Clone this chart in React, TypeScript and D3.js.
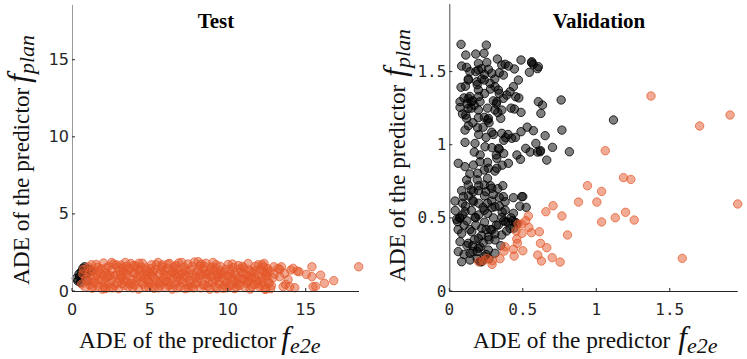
import React from 'react';
import { scaleLinear } from 'd3';

// test set: [ADE of f_e2e, ADE of f_plan]
const testPlanBetter: [number, number][] = [
  [0.7, 1.47], [1.07, 1.42], [1.24, 1.29], [0.28, 0.82], [0.49, 0.93], [0.6, 1.25],
  [0.92, 1.14], [0.81, 1.57], [0.38, 0.65], [0.55, 0.55], [0.45, 1.1], [0.98, 0.7],
];

const testE2eBetter: [number, number][] = [
  [0.62, 0.45], [0.7, 1.1], [0.85, 0.25], [0.9, 0.8], [1.05, 1.55], [1.12, 0.4], [1.2, 0.95], [1.3, 0.18],
  [1.38, 1.3], [1.45, 0.62], [1.55, 1.72], [1.6, 1.02], [1.68, 0.3], [1.75, 0.75], [1.85, 1.45], [1.95, 0.12],
  [2.02, 1.82], [2.1, 0.55], [2.18, 1.2], [2.25, 0.88], [2.35, 1.6], [2.42, 0.22], [2.5, 1.35], [2.58, 0.68],
  [2.66, 1.75], [2.75, 0.35], [2.82, 1.05], [2.93, 1.52], [3.0, 0.15], [3.08, 0.8], [3.15, 1.68], [3.22, 0.48],
  [3.3, 1.25], [3.42, 1.85], [3.48, 0.62], [3.55, 1.0], [3.62, 0.25], [3.7, 1.48], [3.78, 1.78], [3.86, 0.72],
  [3.95, 1.18], [4.02, 0.38], [4.1, 1.62], [4.18, 0.9], [4.27, 0.12], [4.35, 1.35], [4.44, 0.58], [4.52, 1.8],
  [4.6, 1.05], [4.68, 0.28], [4.76, 1.5], [4.85, 0.75], [4.94, 1.22], [5.02, 0.45], [5.1, 1.7], [5.18, 0.95],
  [5.26, 0.18], [5.35, 1.4], [5.44, 0.65], [5.52, 1.85], [5.6, 1.12], [5.68, 0.35], [5.76, 1.58], [5.85, 0.82],
  [5.94, 1.3], [6.02, 0.22], [6.1, 1.48], [6.18, 0.6], [6.26, 1.78], [6.35, 1.0], [6.44, 0.12], [6.52, 1.28],
  [6.6, 0.42], [6.68, 1.65], [6.76, 0.88], [6.85, 1.82], [6.94, 0.3], [7.02, 1.15], [7.1, 0.55], [7.18, 1.55],
  [7.26, 0.15], [7.35, 0.98], [7.44, 1.75], [7.52, 0.68], [7.6, 1.38], [7.68, 0.25], [7.76, 1.05], [7.85, 1.88],
  [7.94, 0.48], [8.02, 1.25], [8.1, 0.78], [8.18, 1.62], [8.26, 0.2], [8.35, 1.0], [8.44, 1.45], [8.52, 0.38],
  [8.6, 1.8], [8.68, 0.85], [8.76, 1.2], [8.85, 0.12], [8.94, 1.55], [9.02, 0.62], [9.1, 1.32], [9.18, 0.28],
  [9.26, 1.7], [9.35, 0.92], [9.44, 0.45], [9.52, 1.6], [9.6, 1.08], [9.68, 0.18], [9.76, 0.75], [9.85, 1.42],
  [9.94, 0.55], [10.02, 1.72], [10.1, 0.32], [10.18, 1.15], [10.26, 0.85], [10.35, 1.52], [10.44, 0.15], [10.52, 1.0],
  [10.6, 0.6], [10.68, 1.65], [10.76, 0.35], [10.85, 1.25], [10.94, 0.8], [11.02, 1.5], [11.1, 0.22], [11.18, 1.02],
  [11.26, 0.58], [11.35, 1.38], [11.44, 0.12], [11.52, 0.85], [11.6, 1.22], [11.68, 0.42], [11.76, 1.6], [11.85, 0.7],
  [11.94, 1.05], [12.02, 0.28], [12.1, 1.4], [12.18, 0.9], [12.26, 0.55], [12.35, 1.2], [12.44, 0.15], [12.52, 0.95],
  [12.6, 0.62], [12.7, 1.3], [12.8, 0.35], [12.9, 0.85], [13.0, 1.1],
  [0.75, 1.4], [1.25, 1.7], [1.5, 0.5], [1.8, 1.15], [2.05, 0.3], [2.3, 1.05], [2.6, 0.2], [2.85, 1.7],
  [3.1, 1.05], [3.35, 0.35], [3.6, 1.3], [3.85, 0.5], [4.05, 1.15], [4.3, 1.8], [4.55, 0.45], [4.8, 1.05],
  [5.05, 1.45], [5.3, 0.85], [5.55, 0.2], [5.8, 1.7], [6.05, 0.95], [6.3, 0.4], [6.55, 1.55], [6.8, 0.6],
  [7.05, 1.85], [7.3, 1.35], [7.55, 1.0], [7.8, 0.2], [8.05, 0.55], [8.3, 1.75], [8.55, 1.1], [8.8, 0.55],
  [9.05, 1.85], [9.3, 0.15], [9.55, 1.3], [9.8, 0.38], [10.05, 0.95], [10.3, 1.75], [10.55, 0.25], [10.8, 1.45],
  [11.05, 0.75], [11.3, 1.78], [11.55, 0.3], [11.8, 1.35], [12.05, 0.65], [12.3, 1.55], [12.55, 1.45], [12.75, 0.15],
  [2.2, 1.5], [3.25, 1.5], [4.4, 0.95], [5.2, 1.25], [6.4, 1.2], [7.4, 0.4], [8.4, 0.4], [9.4, 1.15],
  [10.4, 0.6], [11.4, 0.95], [1.4, 0.85], [2.7, 0.95], [3.9, 0.2], [5.65, 0.6], [6.9, 1.05], [8.15, 1.35],
  [9.2, 0.75], [10.7, 0.85], [11.9, 0.45],
  [1.0, 0.6], [1.15, 1.25], [1.35, 0.3], [1.65, 1.55], [1.9, 0.7], [2.15, 0.15], [2.45, 1.0], [2.55, 1.85],
  [2.9, 0.5], [3.05, 1.35], [3.2, 0.9], [3.45, 1.15], [3.7, 0.45], [3.95, 1.65], [4.15, 0.65], [4.45, 1.55],
  [4.65, 0.85], [4.9, 0.3], [5.1, 1.05], [5.4, 1.7], [5.6, 0.5], [5.9, 1.1], [6.15, 1.75], [6.2, 0.35],
  [6.45, 0.8], [6.7, 1.4], [6.95, 0.75], [7.2, 0.95], [7.45, 0.2], [7.7, 1.6], [7.95, 0.9], [8.2, 1.05],
  [8.5, 1.6], [8.7, 0.3], [8.95, 0.95], [9.15, 1.5], [9.45, 0.65], [9.7, 1.2], [9.9, 0.2], [10.15, 1.4],
  [10.45, 1.15], [10.65, 0.45], [10.95, 1.6], [11.2, 0.5], [11.45, 1.25], [11.7, 0.9], [11.95, 1.7], [12.2, 0.35],
  [12.45, 1.05], [12.65, 0.5], [2.0, 1.0], [3.5, 1.6], [4.75, 1.35], [5.75, 1.35], [6.6, 1.1], [7.6, 0.45],
  [8.9, 1.35], [9.95, 0.98], [11.0, 1.15], [12.2, 1.7], [1.7, 1.3], [2.35, 0.45], [3.3, 0.7], [4.2, 1.4],
  [5.15, 0.3], [6.0, 0.6], [7.15, 1.25], [8.1, 1.9], [9.3, 1.05], [10.25, 0.4], [11.35, 0.65], [12.5, 1.2],
  [4.9, 0.55], [6.75, 0.2], [8.65, 1.05],
  // sparse tail
  [12.33, 1.79], [12.95, 1.57], [13.23, 1.47], [13.33, 1.4], [13.44, 1.57], [13.33, 0.93], [13.65, 1.14],
  [13.55, 0.28], [13.7, 0.43], [13.87, 0.75], [13.97, 0.28], [14.04, 1.36], [14.19, 1.47], [14.3, 0.21],
  [14.45, 1.29], [14.57, 1.25], [15.04, 1.08], [15.4, 1.57], [15.4, 0.93], [15.47, 0.28], [15.64, 0.3],
  [15.96, 1.03], [16.2, 0.5], [16.8, 0.67], [18.4, 1.57], [12.4, 0.1],
];

// validation set
const valPlanBetter: [number, number][] = [
  [0.08, 1.686], [0.252, 1.681], [0.112, 1.613], [0.18, 1.62], [0.236, 1.625], [0.327, 1.586], [0.488, 1.579],
  [0.561, 1.567], [0.606, 1.533], [0.545, 1.495], [0.084, 1.538], [0.118, 1.529], [0.198, 1.556], [0.255, 1.563],
  [0.198, 1.511], [0.266, 1.515], [0.357, 1.545], [0.402, 1.538], [0.443, 1.518], [0.289, 1.488], [0.34, 1.492],
  [0.368, 1.476], [0.47, 1.442], [0.129, 1.442], [0.187, 1.431], [0.238, 1.442], [0.277, 1.42], [0.311, 1.397],
  [0.08, 1.393], [0.198, 1.374], [0.334, 1.374], [0.436, 1.397], [0.413, 1.362], [0.391, 1.34], [0.368, 1.317],
  [0.452, 1.328], [0.473, 1.32], [0.606, 1.294], [0.634, 1.271], [0.761, 1.306], [0.129, 1.317], [0.073, 1.294],
  [0.15, 1.294], [0.209, 1.294], [0.323, 1.294], [0.073, 1.255], [0.129, 1.248], [0.198, 1.237], [0.311, 1.237],
  [0.357, 1.237], [0.443, 1.244], [0.488, 1.221], [0.623, 1.214], [0.112, 1.203], [0.238, 1.187], [0.266, 1.18],
  [0.118, 1.18], [0.198, 1.185], [0.261, 1.169], [1.117, 1.169], [0.107, 1.1], [0.193, 1.116], [0.289, 1.085],
  [0.357, 1.078], [0.384, 1.048], [0.488, 1.089], [0.572, 1.096], [0.652, 1.062], [0.766, 1.1], [0.107, 1.016],
  [0.175, 1.009], [0.243, 0.986], [0.334, 0.975], [0.425, 1.044], [0.52, 0.975], [0.589, 1.009], [0.618, 0.952],
  [0.702, 0.982], [0.817, 0.952], [0.663, 0.895], [0.484, 0.9], [0.402, 0.873], [0.323, 0.907], [0.323, 0.839],
  [0.266, 0.839], [0.209, 0.884], [0.164, 0.861], [0.107, 0.85], [0.061, 0.873], [0.193, 0.805], [0.238, 0.827],
  [0.364, 0.72], [0.289, 0.702], [0.238, 0.725], [0.248, 0.679], [0.198, 0.686], [0.129, 0.725], [0.084, 0.686],
  [0.118, 0.759], [0.164, 0.679], [0.039, 0.615], [0.096, 0.645], [0.368, 0.645], [0.436, 0.638], [0.493, 0.645],
  [0.289, 0.615], [0.38, 0.61], [0.164, 0.61], [0.107, 0.542], [0.073, 0.497], [0.056, 0.474], [0.175, 0.504],
  [0.238, 0.552], [0.311, 0.576], [0.38, 0.552], [0.357, 0.504], [0.436, 0.531], [0.384, 0.474], [0.413, 0.428],
  [0.334, 0.451], [0.289, 0.417], [0.221, 0.428], [0.153, 0.405], [0.084, 0.394], [0.073, 0.337], [0.129, 0.326],
  [0.198, 0.36], [0.266, 0.371], [0.311, 0.349], [0.357, 0.383], [0.061, 0.269], [0.141, 0.258], [0.198, 0.292],
  [0.266, 0.28], [0.311, 0.258], [0.084, 0.2], [0.141, 0.212], [0.209, 0.2], [0.238, 0.234], [0.523, 0.572],
  [0.12, 0.48], [0.15, 0.55], [0.18, 0.45], [0.2, 0.52], [0.22, 0.38], [0.24, 0.47], [0.26, 0.53], [0.28, 0.42],
  [0.3, 0.5], [0.17, 0.35], [0.21, 0.3], [0.25, 0.25], [0.19, 0.22], [0.22, 0.2], [0.14, 0.42], [0.11, 0.58],
  [0.13, 0.65], [0.16, 0.62], [0.26, 0.6], [0.3, 0.66], [0.34, 0.58], [0.32, 0.45], [0.27, 0.35], [0.23, 0.57],
  [0.2, 0.6], [0.1, 0.45], [0.09, 0.52], [0.07, 0.5], [0.05, 0.49], [0.12, 0.31], [0.16, 0.27], [0.35, 0.31],
  [0.4, 0.47], [0.42, 0.5], [0.45, 0.47], [0.24, 0.65], [0.28, 0.72], [0.33, 0.7], [0.19, 0.76], [0.14, 0.8],
  [0.14, 1.33], [0.16, 1.3], [0.12, 1.28], [0.2, 1.33], [0.22, 1.45], [0.3, 1.3], [0.32, 1.28], [0.34, 1.35],
  [0.33, 1.22], [0.28, 1.38], [0.15, 1.25], [0.1, 1.32], [0.18, 1.5], [0.22, 1.52], [0.11, 1.4], [0.21, 0.93],
  [0.32, 0.93], [0.34, 0.97], [0.25, 1.05], [0.3, 1.07], [0.37, 1.03], [0.4, 1.07], [0.17, 0.95], [0.26, 0.88],
  [0.36, 0.86], [0.27, 1.15], [0.16, 1.15], [0.42, 1.25], [0.38, 1.55], [0.56, 1.56], [0.57, 1.55], [0.6, 1.52],
  [0.62, 0.96], [0.6, 0.95], [0.46, 0.46], [0.43, 0.48], [0.5, 0.645],
  [0.13, 1.45], [0.19, 1.41], [0.24, 1.35], [0.17, 1.27], [0.26, 1.25], [0.13, 1.13], [0.2, 1.07], [0.23, 1.12],
  [0.29, 0.98], [0.37, 0.94], [0.31, 0.82], [0.2, 0.72], [0.26, 0.77], [0.34, 0.64], [0.15, 0.69], [0.09, 0.6],
  [0.18, 0.5], [0.25, 0.42], [0.29, 0.57], [0.37, 0.48], [0.31, 0.39], [0.16, 0.31], [0.23, 0.33], [0.1, 0.25],
  [0.19, 0.27], [0.27, 0.22], [0.04, 0.55], [0.06, 0.42], [0.36, 0.54], [0.39, 0.41], [0.44, 0.43], [0.48, 0.58],
  [0.14, 1.5], [0.24, 1.48], [0.31, 1.45], [0.09, 1.21], [0.35, 1.18], [0.45, 1.05], [0.53, 1.12], [0.55, 0.95],
  [0.46, 0.93],
];

const valE2eBetter: [number, number][] = [
  [1.372, 1.333], [1.91, 1.203], [1.703, 1.128], [1.061, 0.959], [1.185, 0.775], [1.235, 0.763], [0.94, 0.72],
  [1.036, 0.681], [1.962, 0.595], [0.879, 0.608], [1.004, 0.608], [0.706, 0.583], [0.657, 0.542], [1.199, 0.538],
  [1.129, 0.501], [1.258, 0.485], [1.036, 0.472], [0.766, 0.513], [0.538, 0.513], [0.804, 0.383], [0.613, 0.405],
  [0.559, 0.399], [0.541, 0.435], [0.493, 0.458], [0.468, 0.458], [0.454, 0.41], [0.495, 0.394], [0.459, 0.355],
  [0.463, 0.326], [0.379, 0.303], [0.436, 0.285], [0.5, 0.275], [0.373, 0.273], [0.62, 0.326], [0.663, 0.296],
  [0.602, 0.246], [0.627, 0.205], [0.7, 0.228], [0.754, 0.198], [0.441, 0.239], [0.345, 0.221], [0.293, 0.207],
  [0.291, 0.182], [0.232, 0.207], [0.255, 0.223], [1.585, 0.223], [0.52, 0.48], [0.2, 0.2],
];

const testTicks = [0, 5, 10, 15];
const valTicks = [0, 0.5, 1, 1.5];
const valTickLabels = ['0', '0.5', '1', '1.5'];

const BLACK = '#000000';
const ORANGE = '#E4582A';
const AXIS = '#262626';

type Panel = {
  title: string;
  titleX: number;
  xRange: [number, number];
  yRange: [number, number];
  xMax: number;
  yMax: number;
  ticks: number[];
  tickLabels: string[];
  tickFont: string;
  yAxisColor: string;
  yLabelX: number;
  yLabelBottom: number;
  xLabelStart: number;
  fGap: number;
  black: [number, number][];
  orange: [number, number][];
};

const panels: Panel[] = [
  {
    title: 'Test', titleX: 216, xRange: [72, 359], yRange: [291, 5], xMax: 18.42, yMax: 18.55,
    ticks: testTicks, tickLabels: testTicks.map(String), tickFont: 'DejaVu Sans',
    yAxisColor: '#9a9a9a', yLabelX: 29, yLabelBottom: 285, xLabelStart: 79, fGap: 5,
    black: testPlanBetter, orange: testE2eBetter,
  },
  {
    title: 'Validation', titleX: 599, xRange: [449.3, 737.7], yRange: [291, 4], xMax: 1.962, yMax: 1.962,
    ticks: valTicks, tickLabels: valTickLabels, tickFont: 'DejaVu Sans Mono',
    yAxisColor: '#4a4a4a', yLabelX: 405, yLabelBottom: 282, xLabelStart: 473, fGap: 8,
    black: valPlanBetter, orange: valE2eBetter,
  },
];

function Scatter({ p }: { p: Panel }) {
  const x = scaleLinear().domain([0, p.xMax]).range(p.xRange);
  const y = scaleLinear().domain([0, p.yMax]).range(p.yRange);
  const [x0, x1] = p.xRange;
  const [yb, yt] = p.yRange;
  const serif = 'Liberation Serif, Times New Roman, serif';
  return (
    <g>
      {p.black.map((d, i) => (
        <circle key={'b' + i} cx={x(d[0])} cy={y(d[1])} r={4.2}
          fill={BLACK} fillOpacity={0.5} stroke={BLACK} strokeWidth={0.8} />
      ))}
      {p.orange.map((d, i) => (
        <circle key={'o' + i} cx={x(d[0])} cy={y(d[1])} r={4.2}
          fill={ORANGE} fillOpacity={0.5} stroke={ORANGE} strokeOpacity={0.9} strokeWidth={0.8} />
      ))}

      {/* axes */}
      <line x1={x0} x2={x1} y1={yb + 0.5} y2={yb + 0.5} stroke={AXIS} strokeWidth={1} />
      <line x1={x0 + 0.5} x2={x0 + 0.5} y1={yb} y2={yt} stroke={p.yAxisColor} strokeWidth={1} />
      {p.ticks.map((t, i) => (
        <g key={'t' + i} fontFamily={p.tickFont} fontSize={16} fill={AXIS}>
          <line x1={x(t)} x2={x(t)} y1={yb} y2={yb - 3} stroke={AXIS} />
          <line x1={x0} x2={x0 + 3} y1={y(t)} y2={y(t)} stroke={AXIS} />
          <text x={x(t)} y={315} textAnchor="middle">{p.tickLabels[i]}</text>
          <text x={x0 - 3} y={y(t)} textAnchor="end" dominantBaseline="central">{p.tickLabels[i]}</text>
        </g>
      ))}

      <text x={p.titleX} y={28} textAnchor="middle" fontFamily={serif} fontWeight="bold" fontSize={21}>
        {p.title}
      </text>

      <text x={p.xLabelStart} y={348} fontFamily={serif} fontSize={23.3} fill="#111">
        ADE of the predictor
        <tspan dx={p.fGap} fontStyle="italic" fontSize={31}>f</tspan>
        <tspan fontStyle="italic" fontSize={22} dy={5}>e2e</tspan>
      </text>

      <text transform={`translate(${p.yLabelX},${p.yLabelBottom}) rotate(-90)`} fontFamily={serif} fontSize={23.3} fill="#111">
        ADE of the predictor
        <tspan dx={p.fGap} fontStyle="italic" fontSize={31}>f</tspan>
        <tspan fontStyle="italic" fontSize={22} dy={5}>plan</tspan>
      </text>
    </g>
  );
}

export default function App() {
  return (
    <svg width={747} height={359} style={{ position: 'absolute', left: 0, top: 0, background: '#fff' }}>
      {panels.map((p) => <Scatter key={p.title} p={p} />)}
    </svg>
  );
}
